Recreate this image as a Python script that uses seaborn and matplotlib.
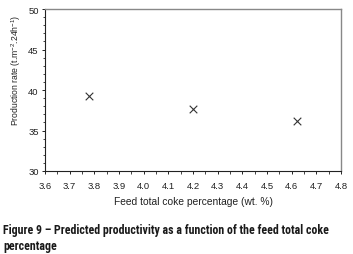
import matplotlib
matplotlib.use("Agg")
import matplotlib.pyplot as plt
import seaborn as sns
import pandas as pd
from matplotlib.ticker import MultipleLocator

# Data
coke_pct = [3.78, 4.20, 4.62]
production_rate = [39.3, 37.6, 36.2]
x_ticks = [3.6, 3.7, 3.8, 3.9, 4.0, 4.1, 4.2, 4.3, 4.4, 4.5, 4.6, 4.7, 4.8]

df = pd.DataFrame({"coke": coke_pct, "rate": production_rate})

sns.set_style("ticks")
plt.rcParams["font.family"] = ["Liberation Sans", "DejaVu Sans"]
plt.rcParams["mathtext.fontset"] = "custom"
plt.rcParams["mathtext.rm"] = "Liberation Sans"
plt.rcParams["mathtext.it"] = "Liberation Sans"

fig = plt.figure(figsize=(3.53, 2.55), dpi=100)
ax = fig.add_axes([45 / 353, 1 - 172 / 255, (341 - 45) / 353, (172 - 10) / 255])

sns.scatterplot(data=df, x="coke", y="rate", marker="x", s=30, color="#333333",
                linewidth=0.8, ax=ax, legend=False)

ax.set_xlim(3.6, 4.8)
ax.set_ylim(30, 50)
ax.set_xticks(x_ticks)
ax.set_xticklabels([f"{v:.1f}" for v in x_ticks])
ax.xaxis.set_minor_locator(MultipleLocator(0.05))
ax.yaxis.set_major_locator(MultipleLocator(5))
ax.yaxis.set_minor_locator(MultipleLocator(1))
ax.tick_params(which="major", length=2.5, width=0.7, labelsize=6.8, colors="#222222")
ax.tick_params(axis="x", which="major", pad=4.5)
ax.tick_params(axis="y", which="major", pad=2)
ax.tick_params(which="minor", length=1.8, width=0.6, colors="#222222")

for side in ["left", "bottom"]:
    ax.spines[side].set_color("#222222")
    ax.spines[side].set_linewidth(0.8)
for side in ["top", "right"]:
    ax.spines[side].set_color("#888888")
    ax.spines[side].set_linewidth(1.0)

ax.set_xlabel("Feed total coke percentage (wt. %)", fontsize=7.4, color="#222222")
ax.set_ylabel("Production rate (t.m$^{-2}$.24h$^{-1}$)", fontsize=6.2, color="#222222")
ax.xaxis.set_label_coords(0.5, (172 - 202) / 162)
ax.xaxis.label.set_va("center")
ax.yaxis.set_label_coords((16 - 45) / 296, (172 - 70) / 162)
ax.yaxis.label.set_va("center")

cap_font = ["Roboto Condensed", "Archivo Narrow", "DejaVu Sans"]
fig.text(3 / 353, 1 - 231 / 255,
         "Figure 9 – Predicted productivity as a function of the feed total coke",
         family=cap_font, fontweight="bold", fontsize=8.6, color="#1a1a1a", va="center")
fig.text(3 / 353, 1 - 247 / 255, "percentage",
         family=cap_font, fontweight="bold", fontsize=8.6, color="#1a1a1a", va="center")

fig.savefig("out.png", dpi=100)
